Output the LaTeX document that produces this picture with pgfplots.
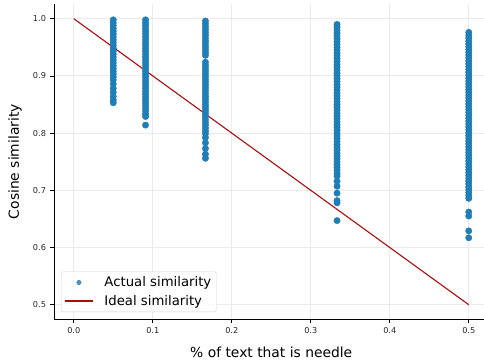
\documentclass[border=0pt]{standalone}
\usepackage{fontspec}
\setmainfont{DejaVu Sans}
\usepackage{pgfplots}
\pgfplotsset{compat=1.18}
\definecolor{ptblue}{RGB}{31,125,184}
\definecolor{ideal}{RGB}{170,12,12}
\definecolor{gridc}{RGB}{235,235,235}
\begin{document}
\begin{tikzpicture}
\begin{axis}[
  at={(0bp,0bp)}, anchor=south west,
  scale only axis,
  width=434.5bp, height=314.6bp,
  xmin=-0.025, xmax=0.525,
  ymin=0.475, ymax=1.025,
  axis line style={draw=none},
  xtick pos=bottom, ytick pos=left,
  tick align=outside,
  major tick length=3.5bp,
  tick style={black, line width=0.7bp},
  xtick={0,0.1,0.2,0.3,0.4,0.5},
  ytick={0.5,0.6,0.7,0.8,0.9,1.0},
  xticklabels={0.0,0.1,0.2,0.3,0.4,0.5},
  yticklabels={0.5,0.6,0.7,0.8,0.9,1.0},
  ticklabel style={font=\fontsize{8.2}{10}\selectfont, text=black!85},
  xticklabel style={yshift=-1bp},
  yticklabel style={xshift=-1bp},
  grid=major,
  major grid style={gridc, line width=0.8bp},
  xlabel={\% of text that is needle},
  xlabel style={at={(axis description cs:0.5,0)}, anchor=center, yshift=-33bp, font=\fontsize{13.9}{16}\selectfont},
  legend style={at={(0,0)}, anchor=south west, xshift=7bp, yshift=7bp,
    draw=black!18, rounded corners=2bp, fill=white, fill opacity=0.8, text opacity=1,
    font=\fontsize{13.3}{15}\selectfont, inner xsep=3bp, inner ysep=3bp,
    row sep=3bp},
  legend cell align=left,
  clip=false,
]
\addplot[only marks, mark=*, mark size=3.2bp, color=ptblue, mark options={draw=none, fill=ptblue},
  legend image code/.code={\fill[ptblue] (0.5cm,0) circle (2.2bp); \pgfpathmoveto{\pgfqpoint{0pt}{0pt}}\pgfpathlineto{\pgfqpoint{1.33cm}{0pt}}\pgfusepath{discard}}]
coordinates {
(0.05,0.998)(0.05,0.993)(0.05,0.988)(0.05,0.983)(0.05,0.978)(0.05,0.973)(0.05,0.968)(0.05,0.963)(0.05,0.958)(0.05,0.953)(0.05,0.948)(0.05,0.943)(0.05,0.938)(0.05,0.933)(0.05,0.928)(0.05,0.923)(0.05,0.918)(0.05,0.913)(0.05,0.908)(0.05,0.903)(0.05,0.898)(0.05,0.893)(0.05,0.886)(0.05,0.878)(0.05,0.871)(0.05,0.864)(0.05,0.858)(0.05,0.853)
(0.0909,0.998)(0.0909,0.993)(0.0909,0.988)(0.0909,0.983)(0.0909,0.978)(0.0909,0.973)(0.0909,0.968)(0.0909,0.963)(0.0909,0.958)(0.0909,0.953)(0.0909,0.948)(0.0909,0.943)(0.0909,0.938)(0.0909,0.933)(0.0909,0.928)(0.0909,0.923)(0.0909,0.918)(0.0909,0.913)(0.0909,0.908)(0.0909,0.903)(0.0909,0.898)(0.0909,0.893)(0.0909,0.888)(0.0909,0.883)(0.0909,0.878)(0.0909,0.873)(0.0909,0.868)(0.0909,0.863)(0.0909,0.858)(0.0909,0.853)(0.0909,0.848)(0.0909,0.843)(0.0909,0.838)(0.0909,0.833)(0.0909,0.829)(0.0909,0.814)
(0.1667,0.996)(0.1667,0.991)(0.1667,0.986)(0.1667,0.981)(0.1667,0.976)(0.1667,0.971)(0.1667,0.966)(0.1667,0.961)(0.1667,0.956)(0.1667,0.951)(0.1667,0.946)(0.1667,0.941)(0.1667,0.936)
(0.1667,0.924)(0.1667,0.919)(0.1667,0.914)(0.1667,0.909)(0.1667,0.904)(0.1667,0.899)(0.1667,0.894)(0.1667,0.889)(0.1667,0.884)(0.1667,0.879)(0.1667,0.874)(0.1667,0.869)(0.1667,0.864)(0.1667,0.859)(0.1667,0.854)(0.1667,0.849)(0.1667,0.844)(0.1667,0.839)(0.1667,0.834)(0.1667,0.829)(0.1667,0.824)(0.1667,0.819)(0.1667,0.814)(0.1667,0.809)(0.1667,0.804)(0.1667,0.799)(0.1667,0.792)(0.1667,0.783)(0.1667,0.773)(0.1667,0.763)(0.1667,0.756)
(0.3333,0.990)(0.3333,0.985)(0.3333,0.980)(0.3333,0.975)(0.3333,0.970)(0.3333,0.965)(0.3333,0.960)(0.3333,0.955)(0.3333,0.950)(0.3333,0.945)(0.3333,0.940)(0.3333,0.935)(0.3333,0.930)(0.3333,0.925)(0.3333,0.920)(0.3333,0.915)(0.3333,0.910)(0.3333,0.905)(0.3333,0.900)(0.3333,0.895)(0.3333,0.890)(0.3333,0.885)(0.3333,0.880)(0.3333,0.875)(0.3333,0.870)(0.3333,0.865)(0.3333,0.860)(0.3333,0.855)(0.3333,0.850)(0.3333,0.845)(0.3333,0.840)(0.3333,0.835)(0.3333,0.830)(0.3333,0.825)(0.3333,0.820)(0.3333,0.815)(0.3333,0.810)(0.3333,0.805)(0.3333,0.800)(0.3333,0.795)(0.3333,0.790)(0.3333,0.785)(0.3333,0.780)(0.3333,0.775)(0.3333,0.770)(0.3333,0.765)(0.3333,0.760)(0.3333,0.755)(0.3333,0.750)(0.3333,0.745)(0.3333,0.740)(0.3333,0.735)(0.3333,0.730)(0.3333,0.725)(0.3333,0.716)(0.3333,0.707)(0.3333,0.695)(0.3333,0.682)(0.3333,0.678)(0.3333,0.647)
(0.5,0.976)(0.5,0.971)(0.5,0.966)(0.5,0.961)(0.5,0.956)(0.5,0.951)(0.5,0.946)(0.5,0.941)(0.5,0.936)(0.5,0.931)(0.5,0.926)(0.5,0.921)(0.5,0.916)(0.5,0.911)(0.5,0.906)(0.5,0.901)(0.5,0.896)(0.5,0.891)(0.5,0.886)(0.5,0.881)(0.5,0.876)(0.5,0.871)(0.5,0.866)(0.5,0.861)(0.5,0.856)(0.5,0.851)(0.5,0.846)(0.5,0.841)(0.5,0.836)(0.5,0.831)(0.5,0.826)(0.5,0.821)(0.5,0.816)(0.5,0.811)(0.5,0.806)(0.5,0.801)(0.5,0.796)(0.5,0.791)(0.5,0.786)(0.5,0.781)(0.5,0.776)(0.5,0.771)(0.5,0.766)(0.5,0.761)(0.5,0.756)(0.5,0.751)(0.5,0.746)(0.5,0.741)(0.5,0.736)(0.5,0.731)(0.5,0.726)(0.5,0.721)(0.5,0.716)(0.5,0.711)(0.5,0.706)(0.5,0.701)(0.5,0.696)(0.5,0.691)(0.5,0.686)(0.5,0.662)(0.5,0.655)(0.5,0.629)(0.5,0.617)
};
\addlegendentry{Actual similarity}
\addplot[ideal, line width=1.1bp, mark=none,
  legend image code/.code={\draw[ideal, line width=1.1bp] (0cm,0) -- (1cm,0); \pgfpathmoveto{\pgfqpoint{0pt}{0pt}}\pgfpathlineto{\pgfqpoint{1.33cm}{0pt}}\pgfusepath{discard}}]
coordinates {(0,1.0)(0.5,0.5)};
\addlegendentry{Ideal similarity}
\draw[black, line width=0.9bp] (rel axis cs:0,1) -- (rel axis cs:0,0) -- (rel axis cs:1,0);
\node[xshift=-39bp, rotate=90, anchor=center, inner sep=0pt, font=\fontsize{13.9}{16}\selectfont] at (rel axis cs:0,0.5) {Cosine similarity};
\end{axis}
\pgfresetboundingbox
\useasboundingbox (-54bp,-43bp) rectangle (430bp,319bp);
\end{tikzpicture}
\end{document}
